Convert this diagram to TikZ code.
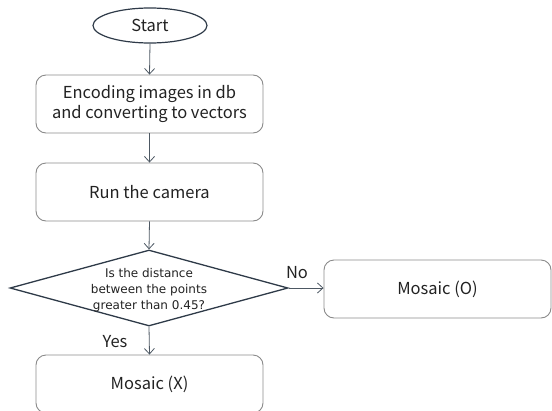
\documentclass[tikz,border=0pt]{standalone}
\usepackage{fontspec}
\setmainfont{Noto Sans CJK KR}
\newfontfamily\decfont{DejaVu Sans}
\usetikzlibrary{shapes.geometric,arrows.meta}
\definecolor{boxgray}{HTML}{8A8A8A}
\definecolor{darkline}{HTML}{2E3A48}
\definecolor{txt}{HTML}{222222}
\begin{document}
\begin{tikzpicture}[x=1pt,y=-1pt,
  every node/.style={text=txt},
  procbox/.style={draw=boxgray,line width=0.9pt,rounded corners=10pt,minimum width=227pt,minimum height=58pt,inner sep=0pt,font=\fontsize{16.5}{20}\selectfont,align=center},
  startnode/.style={draw=darkline,line width=1.2pt,ellipse,minimum width=114pt,minimum height=35pt,inner sep=0pt,font=\fontsize{16.5}{18}\selectfont},
  decision/.style={draw=darkline,line width=1.3pt,diamond,minimum width=278pt,minimum height=76pt,inner sep=0pt},
  dectext/.style={font=\decfont\fontsize{12}{16}\selectfont,align=center,inner sep=0pt},
  lbl/.style={font=\fontsize{16.5}{18}\selectfont,inner sep=0pt},
  conn/.style={draw=darkline!85!white,line width=0.8pt,-{Straight Barb[length=5.5pt,width=10pt]}}]
\useasboundingbox (0,0) rectangle (552,410);
\node[startnode] (start) at (150,25.5) {Start};
\node[procbox] (enc) at (149.5,104) {Encoding images in db\\and converting to vectors};
\node[procbox] (cam) at (149.5,192) {Run the camera};
\node[decision] (dec) at (149,288) {};
\node[dectext] (dect) at (149,290) {Is the distance\\between the points\\greater than 0.45?};
\node[procbox] (mo) at (437.5,289) {Mosaic (O)};
\node[procbox] (mx) at (149.5,384) {Mosaic (X)};
\draw[conn] (start.south) -- (enc.north);
\draw[conn] (enc.south) -- (cam.north);
\draw[conn] (cam.south) -- (dec.north);
\draw[conn] (dec.east) -- (mo.west |- dec.east);
\draw[conn] (dec.south) -- (mx.north);
\node[lbl] (no) at (297,273) {No};
\node[lbl] (yes) at (115,342) {Yes};
\end{tikzpicture}
\end{document}
